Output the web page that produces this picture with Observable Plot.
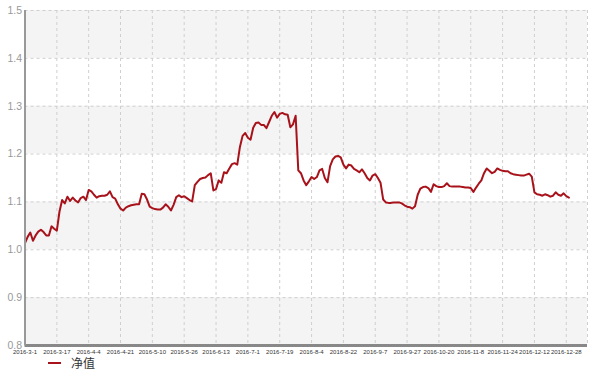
<!DOCTYPE html>
<html>
<head>
<meta charset="utf-8">
<script src="https://cdn.jsdelivr.net/npm/d3@7"></script>
<script src="https://cdn.jsdelivr.net/npm/@observablehq/plot@0.6"></script>
<style>
  html, body { margin: 0; padding: 0; background: #fff; }
  svg { display: block; }
  #legend { position: relative; height: 15px; width: 593px; font-family: "Noto Sans CJK SC", sans-serif; }
  #legend .sw { position: absolute; left: 48px; top: 5px; width: 13px; height: 2px; background: #a8121a; }
  #legend .tx { position: absolute; left: 71px; top: 0px; font-size: 12px; line-height: 12px; color: #333; }
</style>
</head>
<body>
<div id="chart"></div>
<div id="legend"><span class="sw"></span><span class="tx">净值</span></div>
<script>
// Tick labels (category dates shown on the x axis) and their category indices
const tickLabels = ["2016-3-1","2016-3-17","2016-4-4","2016-4-21","2016-5-10","2016-5-26","2016-6-13","2016-7-1","2016-7-19","2016-8-4","2016-8-22","2016-9-7","2016-9-27","2016-10-20","2016-11-8","2016-11-24","2016-12-12","2016-12-28"];
const tickIndex = [0,12,24,36,48,60,72,84,96,108,120,132,144,156,168,180,192,204];
const categoryCount = 213;
const yTicks = [0.8,0.9,1.0,1.1,1.2,1.3,1.4,1.5];
const bandStarts = [0.8,1.0,1.2,1.4];

// Net value (净值), one per trading day
const netValue = [
1.014,1.027,1.036,1.019,1.030,1.038,1.042,1.037,1.030,1.030,
1.049,1.044,1.040,1.080,1.104,1.097,1.111,1.102,1.109,1.103,
1.099,1.108,1.111,1.104,1.125,1.122,1.115,1.109,1.112,1.113,
1.113,1.115,1.122,1.110,1.107,1.095,1.086,1.082,1.088,1.091,
1.093,1.094,1.095,1.095,1.117,1.116,1.105,1.090,1.087,1.085,
1.084,1.084,1.088,1.095,1.090,1.082,1.094,1.110,1.114,1.110,
1.112,1.108,1.104,1.101,1.135,1.142,1.148,1.150,1.151,1.156,
1.160,1.124,1.127,1.145,1.140,1.162,1.160,1.170,1.179,1.181,
1.178,1.215,1.238,1.244,1.234,1.230,1.255,1.265,1.266,1.261,
1.261,1.254,1.267,1.280,1.288,1.276,1.284,1.286,1.283,1.282,
1.256,1.262,1.280,1.166,1.160,1.145,1.135,1.143,1.152,1.148,
1.152,1.166,1.169,1.150,1.141,1.175,1.189,1.195,1.196,1.193,
1.178,1.170,1.178,1.176,1.169,1.166,1.162,1.168,1.160,1.150,
1.145,1.155,1.158,1.150,1.140,1.105,1.099,1.098,1.098,1.099,
1.099,1.099,1.097,1.093,1.090,1.089,1.086,1.091,1.115,1.128,
1.131,1.132,1.129,1.121,1.137,1.133,1.131,1.131,1.133,1.139,
1.133,1.132,1.132,1.132,1.132,1.131,1.130,1.130,1.129,1.121,
1.130,1.138,1.145,1.160,1.170,1.165,1.160,1.163,1.170,1.167,
1.165,1.164,1.164,1.160,1.158,1.157,1.156,1.155,1.155,1.157,
1.159,1.153,1.120,1.116,1.115,1.113,1.116,1.114,1.111,1.113,
1.120,1.115,1.113,1.118,1.112,1.109
];

const data = netValue.map((v, i) => ({i, v}));
const xMax = categoryCount - 1;

const chart = Plot.plot({
  width: 593,
  height: 357,
  marginLeft: 24.5,
  marginRight: 6,
  marginTop: 10,
  marginBottom: 12,
  style: {fontFamily: "'Liberation Sans', Arial, sans-serif", background: "#fff"},
  x: {domain: [0, xMax], label: null},
  y: {domain: [0.8, 1.5], label: null},
  marks: [
    Plot.rect(bandStarts, {x1: () => 0, x2: () => xMax, y1: d => d, y2: d => d + 0.1, fill: "#f4f4f4"}),
    Plot.gridY(yTicks, {stroke: "#cfcfcf", strokeOpacity: 1, strokeDasharray: "3,3"}),
    Plot.gridX(tickIndex.slice(1).concat([xMax]), {stroke: "#cfcfcf", strokeOpacity: 1, strokeDasharray: "3,3"}),
    Plot.axisY(yTicks, {label: null, tickSize: 0, tickPadding: 3, fontSize: 10.5, fill: "#999", tickFormat: d => d.toFixed(1)}),
    Plot.axisX(tickIndex, {label: null, tickSize: 0, tickPadding: 4, fontSize: 6, fill: "#333", tickFormat: d => tickLabels[tickIndex.indexOf(d)]}),
    Plot.line(data, {x: "i", y: "v", stroke: "#a8121a", strokeWidth: 2}),
    Plot.ruleY([0.8], {stroke: "#888", strokeWidth: 3}),
    Plot.ruleX([0], {stroke: "#999", strokeWidth: 2})
  ]
});
document.getElementById("chart").appendChild(chart);
</script>
</body>
</html>
